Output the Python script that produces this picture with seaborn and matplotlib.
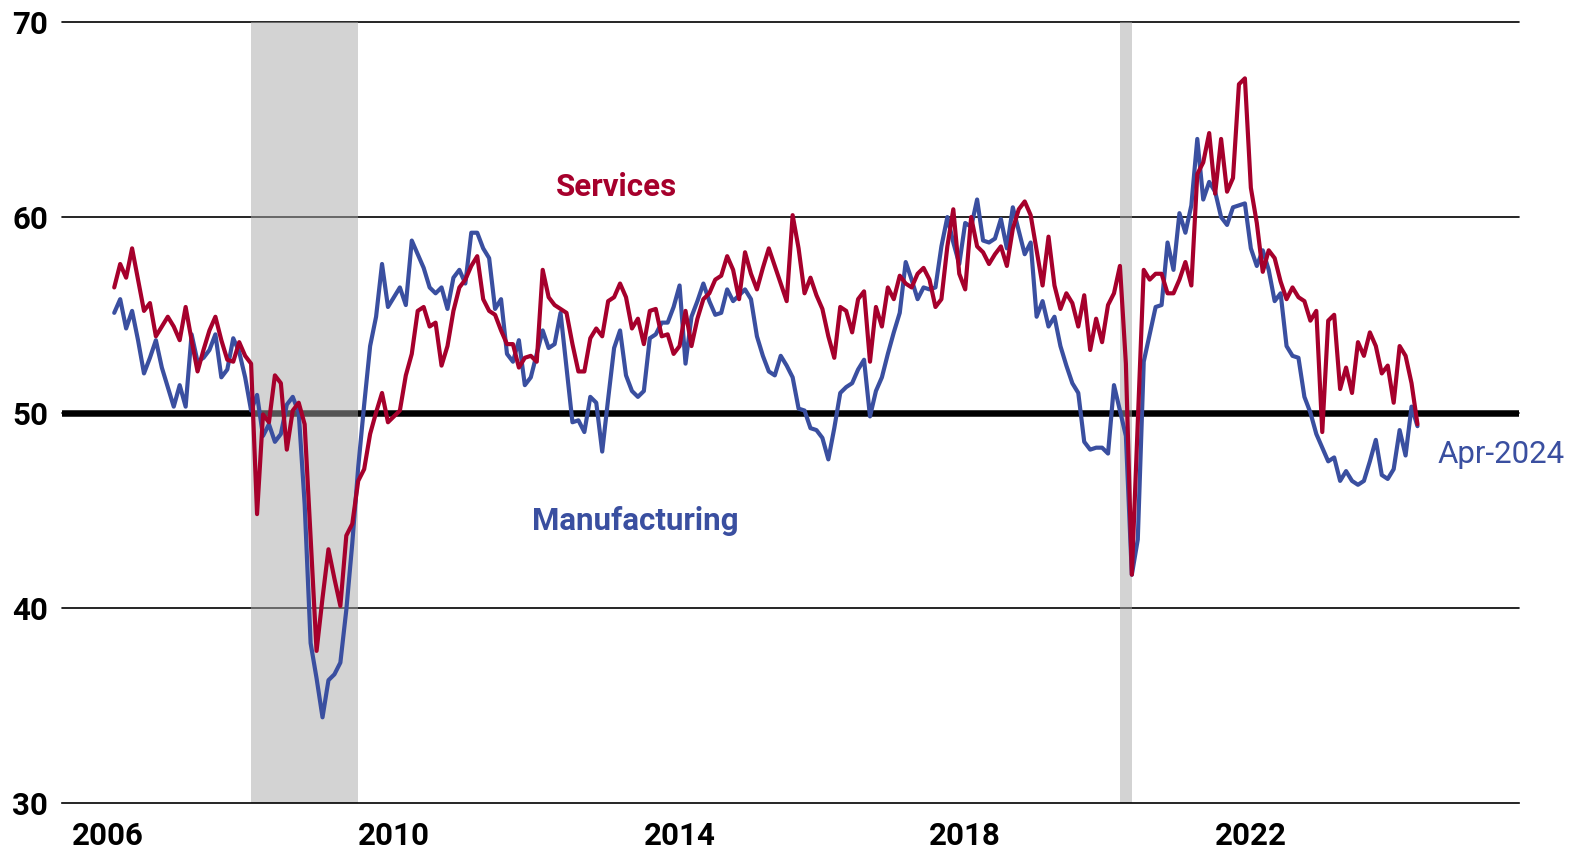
import numpy as np
import pandas as pd
import matplotlib
matplotlib.use("Agg")
import matplotlib.pyplot as plt
import seaborn as sns

# ISM purchasing managers' indexes, monthly, Jan 2006 - Apr 2024
start_year = 2006

manufacturing = [
    55.1, 55.8, 54.3, 55.2, 53.7, 52.0, 52.8, 53.7, 52.3, 51.3, 50.3, 51.4,  # 2006
    50.3, 54.0, 52.6, 52.8, 53.2, 54.0, 51.8, 52.2, 53.8, 53.1, 51.8, 50.1,  # 2007
    50.9, 48.8, 49.4, 48.5, 48.9, 50.4, 50.8, 50.0, 45.3, 38.2, 36.4, 34.4,  # 2008
    36.3, 36.6, 37.2, 39.9, 43.3, 47.2, 50.4, 53.4, 54.9, 57.6, 55.4, 55.9,  # 2009
    56.4, 55.5, 58.8, 58.1, 57.4, 56.4, 56.1, 56.4, 55.3, 56.9, 57.3, 56.6,  # 2010
    59.2, 59.2, 58.4, 57.9, 55.3, 55.8, 53.0, 52.6, 53.7, 51.4, 51.8, 53.0,  # 2011
    54.2, 53.3, 53.5, 55.1, 52.3, 49.5, 49.6, 49.0, 50.8, 50.5, 48.0, 50.7,  # 2012
    53.3, 54.2, 51.9, 51.1, 50.8, 51.1, 53.8, 54.0, 54.6, 54.6, 55.4, 56.5,  # 2013
    52.5, 54.9, 55.7, 56.6, 55.7, 55.0, 55.1, 56.3, 55.7, 56.0, 56.3, 55.8,  # 2014
    53.9, 52.9, 52.1, 51.9, 52.9, 52.4, 51.8, 50.2, 50.1, 49.2, 49.1, 48.7,  # 2015
    47.6, 49.2, 51.0, 51.3, 51.5, 52.2, 52.7, 49.8, 51.1, 51.8, 53.0, 54.1,  # 2016
    55.1, 57.7, 56.8, 55.8, 56.4, 56.3, 56.4, 58.5, 60.0, 58.7, 57.6, 59.7,  # 2017
    59.5, 60.9, 58.8, 58.7, 58.9, 59.9, 58.4, 60.5, 59.3, 58.1, 58.7, 54.9,  # 2018
    55.7, 54.4, 54.9, 53.4, 52.4, 51.5, 51.0, 48.5, 48.1, 48.2, 48.2, 47.9,  # 2019
    51.4, 50.1, 48.8, 41.7, 43.5, 52.6, 54.0, 55.4, 55.5, 58.7, 57.3, 60.2,  # 2020
    59.2, 60.6, 64.0, 60.9, 61.8, 61.3, 60.0, 59.6, 60.5, 60.6, 60.7, 58.4,  # 2021
    57.5, 58.3, 57.3, 55.7, 56.1, 53.4, 52.9, 52.8, 50.8, 50.0, 48.9, 48.2,  # 2022
    47.5, 47.7, 46.5, 47.0, 46.5, 46.3, 46.5, 47.5, 48.6, 46.8, 46.6, 47.1,  # 2023
    49.1, 47.8, 50.3, 49.3,                                                  # 2024
]

services = [
    56.4, 57.6, 56.9, 58.4, 56.8, 55.2, 55.6, 53.9, 54.4, 54.9, 54.4, 53.7,  # 2006
    55.4, 53.7, 52.1, 53.2, 54.2, 54.9, 53.7, 52.7, 52.6, 53.6, 52.9, 52.5,  # 2007
    44.8, 49.9, 49.5, 51.9, 51.5, 48.1, 50.1, 50.5, 49.4, 43.6, 37.8, 40.5,  # 2008
    43.0, 41.5, 40.1, 43.7, 44.3, 46.5, 47.1, 48.9, 50.0, 51.0, 49.5, 49.8,  # 2009
    50.1, 51.9, 53.0, 55.2, 55.4, 54.4, 54.6, 52.4, 53.4, 55.2, 56.4, 56.8,  # 2010
    57.5, 58.0, 55.8, 55.2, 55.0, 54.2, 53.5, 53.5, 52.3, 52.8, 52.9, 52.6,  # 2011
    57.3, 55.9, 55.5, 55.3, 55.1, 53.5, 52.1, 52.1, 53.8, 54.3, 53.9, 55.7,  # 2012
    55.9, 56.6, 55.9, 54.3, 54.8, 53.5, 55.2, 55.3, 53.9, 54.0, 53.0, 53.4,  # 2013
    55.2, 53.4, 54.8, 55.8, 56.1, 56.8, 57.0, 58.0, 57.3, 55.8, 58.2, 57.1,  # 2014
    56.3, 57.4, 58.4, 57.5, 56.6, 55.7, 60.1, 58.4, 56.1, 56.9, 56.0, 55.3,  # 2015
    53.9, 52.8, 55.4, 55.2, 54.1, 55.8, 56.2, 52.6, 55.4, 54.4, 56.4, 55.8,  # 2016
    57.0, 56.6, 56.4, 57.1, 57.4, 56.8, 55.4, 55.8, 58.5, 60.4, 57.1, 56.3,  # 2017
    60.0, 58.5, 58.2, 57.6, 58.1, 58.5, 57.5, 59.4, 60.4, 60.8, 60.1, 58.3,  # 2018
    56.5, 59.0, 56.5, 55.3, 56.1, 55.6, 54.4, 56.0, 53.2, 54.8, 53.6, 55.5,  # 2019
    56.1, 57.5, 52.5, 41.7, 49.5, 57.3, 56.8, 57.1, 57.1, 56.1, 56.1, 56.8,  # 2020
    57.7, 56.5, 62.2, 62.8, 64.3, 61.2, 64.0, 61.3, 62.0, 66.8, 67.1, 61.5,  # 2021
    59.7, 57.2, 58.3, 57.9, 56.7, 55.8, 56.4, 55.9, 55.7, 54.7, 55.2, 49.0,  # 2022
    54.7, 55.0, 51.2, 52.3, 51.0, 53.6, 52.9, 54.1, 53.4, 52.0, 52.4, 50.5,  # 2023
    53.4, 52.9, 51.5, 49.4,                                                  # 2024
]

# NBER recessions (Dec 2007 - Jun 2009, Feb 2020 - Apr 2020) in fractional years
recession_start = [2008.0, 2020.167]
recession_end = [2009.5, 2020.333]

year_ticks = [2006, 2010, 2014, 2018, 2022]
value_ticks = [30, 40, 50, 60, 70]
last_label = "Apr-2024"

RED = "#A6002C"
BLUE = "#3A4FA0"

n = len(manufacturing)
dates = start_year + (np.arange(n) + 1) / 12.0
df = pd.DataFrame({
    "date": np.concatenate([dates, dates]),
    "value": manufacturing + services,
    "series": ["Manufacturing"] * n + ["Services"] * n,
})

sns.set_style("white")
plt.rcParams["font.family"] = ["Roboto", "DejaVu Sans"]

fig = plt.figure(figsize=(15.83, 8.5), dpi=100)
ax = fig.add_axes([0.03917, 0.05494, 0.92040, 0.91953])

# Horizontal reference lines
for v in value_ticks[1:]:
    ax.axhline(v, color="black", lw=1.2, zorder=1, clip_on=False)
ax.axhline(50, color="black", lw=4.7, zorder=1)

# Recession shading
for a, b in zip(recession_start, recession_end):
    ax.axvspan(a, b, color=(0.66, 0.66, 0.66), alpha=0.5, lw=0, zorder=1.5)

sns.lineplot(
    data=df, x="date", y="value", hue="series",
    hue_order=["Manufacturing", "Services"],
    palette={"Manufacturing": BLUE, "Services": RED},
    linewidth=3.0, legend=False, estimator=None, sort=False,
    ax=ax, zorder=3,
)

ax.set_xlim(2005.352, 2025.755)
ax.set_ylim(30, 70)
ax.set_xticks(year_ticks)
ax.set_yticks(value_ticks)
ax.set_xlabel("")
ax.set_ylabel("")

for side in ("top", "left", "right"):
    ax.spines[side].set_visible(False)
ax.spines["bottom"].set_color("black")
ax.spines["bottom"].set_linewidth(1.2)

ax.tick_params(axis="x", direction="out", length=9.4, width=1.4,
               color="#444444", pad=3, labelsize=22.5)
ax.tick_params(axis="y", length=0, pad=10, labelsize=22.5)
for lab in ax.get_xticklabels() + ax.get_yticklabels():
    lab.set_fontweight("bold")
    lab.set_color("black")

ax.text(2013.12, 61.08, "Services", color=RED, fontsize=22.5,
        fontweight="bold", ha="center", va="baseline")
ax.text(2013.38, 43.99, "Manufacturing", color=BLUE, fontsize=22.5,
        fontweight="bold", ha="center", va="baseline")
ax.text(2024.62, 47.40, last_label, color=BLUE, fontsize=22.5,
        ha="left", va="baseline", clip_on=False)

fig.savefig("out.png", dpi=100)
